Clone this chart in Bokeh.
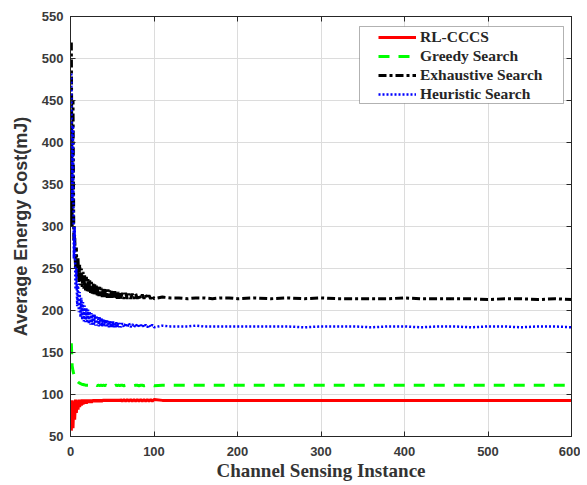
from bokeh.plotting import figure
from bokeh.models import (LinearAxis, FixedTicker, Range1d, Legend, LegendItem,
                          ColumnDataSource, BoxAnnotation)
from bokeh.embed import file_html
from bokeh.resources import INLINE

# ---------------- data ----------------
x_idx = [1, 2, 3, 4, 5, 6, 7, 8, 9, 10,
         11, 12, 13, 14, 15, 16, 17, 18, 19, 20,
         21, 22, 23, 24, 25, 26, 27, 28, 29, 30,
         31, 32, 33, 34, 35, 36, 37, 38, 39, 40,
         41, 42, 43, 44, 45, 46, 47, 48, 49, 50,
         51, 52, 53, 54, 55, 56, 57, 58, 59, 60,
         62, 64, 66, 68, 70, 72, 74, 76, 78, 80,
         82, 84, 86, 88, 90, 92, 94, 96, 98, 100,
         110, 120, 130, 140, 150, 160, 170, 180, 190, 200,
         220, 240, 260, 280, 300, 320, 340, 360, 380, 400,
         420, 440, 460, 480, 500, 520, 540, 560, 580, 600]

rl_cccs = [57, 93, 60, 92, 70, 94, 78, 93, 82, 94,
           85, 94, 87, 94, 88, 94, 89, 94, 89, 94,
           90, 94, 90, 94, 90, 94, 91, 94, 91, 94,
           91, 94, 91, 94, 91, 94, 91, 94, 92, 94,
           92, 94, 92, 94, 92, 94, 92, 94, 92, 94,
           92, 94, 92, 94, 92, 94, 92, 94, 92, 94,
           92, 94, 92, 94, 92, 94, 92, 94, 92, 94,
           92, 94, 92, 94, 92, 94, 92, 94, 92, 94,
           93, 93, 93, 93, 93, 93, 93, 93, 93, 93,
           93, 93, 93, 93, 93, 93, 93, 93, 93, 93,
           93, 93, 93, 93, 93, 93, 93, 93, 93, 93]

greedy = [161, 134, 128, 124, 121, 119, 117, 116, 115, 114,
          113.5, 113, 112.5, 112, 112, 111.5, 111.5, 111, 111, 111,
          111, 111, 110.5, 111, 111, 110.5, 111, 111, 110.5, 111,
          111, 110.5, 111, 111, 110.5, 111, 111, 110.5, 111, 111,
          110.5, 111, 111, 110.5, 111, 111, 110.5, 111, 111, 110.5,
          111, 111, 110.5, 111, 111, 110.5, 111, 111, 110.5, 111,
          111, 110.5, 111, 111, 110.5, 111, 111, 110.5, 111, 111,
          110.5, 111, 111, 110.5, 111, 111, 110.5, 111, 111, 110.5,
          111, 111, 111, 111, 111, 111, 111, 111, 111, 111,
          111, 111, 111, 111, 111, 111, 111, 111, 111, 111,
          111, 111, 111, 111, 111, 111, 111, 111, 111, 111]

exhaustive = [519, 300, 450, 283, 290, 248, 275, 240, 262, 234,
              255, 230, 250, 228, 246, 226, 243, 224, 240, 223,
              238, 222, 236, 221, 234, 220, 232, 219, 231, 218,
              230, 218, 229, 217, 228, 217, 227, 216, 226, 216,
              226, 216, 225, 215, 225, 215, 224, 215, 224, 215,
              223, 215, 223, 215, 222, 214, 222, 214, 222, 214,
              221, 214, 221, 214, 220, 214, 220, 214, 220, 214,
              219, 214, 219, 214, 219, 214, 218, 214, 218, 214,
              216, 215, 215, 214, 215, 215, 214, 215, 215, 214,
              215, 214, 215, 214, 215, 214, 214, 214, 214, 215,
              214, 214, 214, 214, 213, 214, 214, 213, 214, 213]

heuristic = [482, 330, 420, 262, 300, 225, 250, 205, 232, 198,
             222, 192, 215, 189, 210, 187, 206, 186, 203, 185,
             201, 184, 199, 183, 197, 183, 196, 182, 195, 182,
             194, 182, 193, 181, 192, 181, 191, 181, 190, 181,
             189, 181, 189, 180, 188, 180, 188, 180, 187, 180,
             187, 180, 186, 180, 186, 180, 186, 180, 185, 180,
             185, 180, 185, 180, 185, 180, 184, 180, 184, 180,
             184, 180, 184, 180, 183, 180, 183, 180, 183, 180,
             182, 181, 181, 181, 182, 181, 181, 181, 181, 181,
             181, 181, 181, 180, 181, 181, 181, 180, 181, 181,
             180, 181, 181, 180, 181, 181, 180, 181, 181, 180]

series_names = ["RL-CCCS", "Greedy Search", "Exhaustive Search", "Heuristic Search"]
x_ticks = [0, 100, 200, 300, 400, 500, 600]
y_ticks = [50, 100, 150, 200, 250, 300, 350, 400, 450, 500, 550]

# ---------------- figure ----------------
p = figure(width=580, height=484, output_backend="svg", toolbar_location=None,
           x_range=Range1d(0, 600), y_range=Range1d(50, 550),
           min_border_left=70, min_border_right=9, min_border_top=16, min_border_bottom=48)
p.background_fill_color = "white"
p.border_fill_color = "white"
p.outline_line_color = "#262626"
p.outline_line_width = 1

src = ColumnDataSource(dict(x=x_idx, rl=rl_cccs, gr=greedy, ex=exhaustive, he=heuristic))

r1 = p.line("x", "rl", source=src, line_color="#ff0000", line_width=3)
r2 = p.line("x", "gr", source=src, line_color="#00ff00", line_width=3, line_dash="11 9")
r3 = p.line("x", "ex", source=src, line_color="#000000", line_width=3, line_dash="8 3 3 3")
r4 = p.line("x", "he", source=src, line_color="#0000ff", line_width=2.5, line_dash="2 2")

# axes
for ax in (p.xaxis[0], p.yaxis[0]):
    ax.major_tick_in = 5
    ax.major_tick_out = 0
    ax.minor_tick_line_color = None
    ax.axis_line_color = "#262626"
    ax.major_tick_line_color = "#262626"
    ax.major_label_text_font = "Liberation Sans"
    ax.major_label_text_font_style = "bold"
    ax.major_label_text_font_size = "13px"
    ax.major_label_text_color = "#3a3a3a"
p.xaxis[0].ticker = FixedTicker(ticks=x_ticks)
p.yaxis[0].ticker = FixedTicker(ticks=y_ticks)
p.xaxis[0].major_label_standoff = 10
p.yaxis[0].major_label_standoff = 7

p.xaxis[0].axis_label = "Channel Sensing Instance"
p.xaxis[0].axis_label_text_font = "Liberation Serif"
p.xaxis[0].axis_label_text_font_style = "bold"
p.xaxis[0].axis_label_text_font_size = "19px"
p.xaxis[0].axis_label_text_color = "#333333"
p.xaxis[0].axis_label_standoff = 1

p.yaxis[0].axis_label = "Average Energy Cost(mJ)"
p.yaxis[0].axis_label_text_font = "Liberation Sans"
p.yaxis[0].axis_label_text_font_style = "bold"
p.yaxis[0].axis_label_text_font_size = "18px"
p.yaxis[0].axis_label_text_color = "#333333"
p.yaxis[0].axis_label_standoff = 8

top_ax = LinearAxis(ticker=FixedTicker(ticks=x_ticks), major_tick_in=5, major_tick_out=0,
                    minor_tick_line_color=None, major_label_text_color=None,
                    major_label_standoff=0, axis_line_color="#262626",
                    major_tick_line_color="#262626")
right_ax = LinearAxis(ticker=FixedTicker(ticks=y_ticks), major_tick_in=5, major_tick_out=0,
                      minor_tick_line_color=None, major_label_text_color=None,
                      major_label_standoff=0, axis_line_color="#262626",
                      major_tick_line_color="#262626")
p.add_layout(top_ax, "above")
p.add_layout(right_ax, "right")

p.xgrid.ticker = FixedTicker(ticks=x_ticks)
p.ygrid.ticker = FixedTicker(ticks=y_ticks)
p.grid.grid_line_color = "#dcdcdc"
p.grid.grid_line_width = 1

# legend frame (wider than Bokeh's own legend box, as in the reference)
frame_box = BoxAnnotation(left=359, right=563, top=26, bottom=103,
                          left_units="canvas", right_units="canvas",
                          top_units="canvas", bottom_units="canvas",
                          fill_color="white", fill_alpha=1,
                          line_color="#000000", line_width=1, level="overlay")
p.add_layout(frame_box)

legend = Legend(items=[LegendItem(label=n, renderers=[r]) for n, r in zip(series_names, [r1, r2, r3, r4])],
                location=(308, 333))
legend.margin = 0
legend.padding = 1
legend.spacing = 1
legend.glyph_width = 38
legend.glyph_height = 18
legend.label_height = 18
legend.label_standoff = 4
legend.label_text_font = "Liberation Serif"
legend.label_text_font_style = "bold"
legend.label_text_font_size = "15.5px"
legend.label_text_color = "#262626"
legend.border_line_color = None
legend.background_fill_alpha = 0
p.add_layout(legend)

open("out.html", "w").write(file_html(p, INLINE))
